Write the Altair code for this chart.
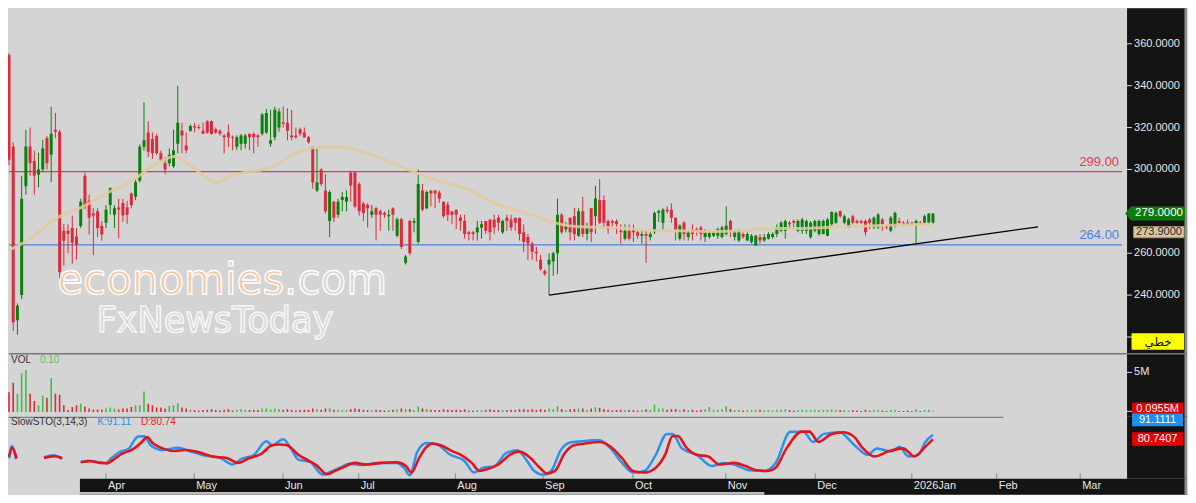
import altair as alt
import pandas as pd

# ---------------- values ----------------
opens = [354.7, 311.0, 228.0, 240.0, 292.0, 311.0, 304.0, 297.5, 300.0, 315.0,
         307.0, 319.0, 318.0, 270.7, 270.7, 272.0, 268.0, 273.0, 297.0, 285.0,
         279.0, 280.0, 273.0, 274.6, 283.0, 278.4, 281.8, 284.0, 282.0, 288.5,
         287.0, 294.6, 310.8, 317.7, 314.6, 316.0, 307.7, 303.0, 303.0, 301.5,
         312.3, 318.5, 311.5, 318.5, 320.8, 320.3, 318.5, 323.0, 323.0, 319.2,
         318.5, 316.2, 317.7, 315.6, 310.8, 312.3, 312.3, 317.0, 317.0, 316.2,
         317.0, 317.7, 312.3, 315.4, 320.0, 322.5, 322.3, 316.2, 316.2, 319.2,
         317.7, 315.4, 310.8, 290.0, 300.0, 290.0, 275.4, 284.6, 278.4, 285.4,
         284.6, 298.5, 298.5, 293.0, 283.8, 283.0, 278.4, 281.5, 280.0, 279.2,
         277.7, 281.5, 268.4, 276.2, 255.4, 275.4, 274.6, 265.4, 290.0, 281.5,
         290.0, 290.0, 289.0, 284.6, 283.1, 280.0, 280.8, 276.9, 275.4, 270.0,
         270.0, 270.0, 272.3, 275.4, 276.1, 276.1, 276.9, 270.0, 276.9, 276.1,
         276.9, 276.9, 270.0, 267.7, 264.6, 260.7, 256.9, 251.5, 254.6, 256.1,
         260.0, 278.4, 271.5, 276.9, 277.7, 268.4, 280.0, 269.2, 281.5, 277.7,
         285.4, 285.4, 275.4, 275.4, 275.4, 270.7, 266.9, 270.7, 271.5, 270.0,
         268.4, 269.2, 267.7, 270.0, 279.2, 274.6, 280.8, 280.8, 276.9, 266.9,
         274.6, 267.7, 270.7, 271.5, 272.3, 267.7, 267.7, 268.4, 268.4, 267.7,
         269.2, 275.4, 267.7, 266.1, 269.2, 266.1, 265.4, 263.8, 267.7, 266.1,
         266.9, 267.7, 269.2, 270.7, 270.7, 274.6, 275.4, 270.7, 270.7, 270.7,
         267.7, 270.7, 269.2, 269.2, 268.4, 273.8, 274.6, 280.0, 274.6, 272.3,
         277.7, 275.4, 275.4, 275.4, 276.1, 272.3, 272.3, 276.1, 273.1, 270.7,
         273.1, 275.4, 274.6, 274.6, 274.6, 273.8, 274.6, 274.6, 274.6, 274.6]

highs = [355.5, 313.0, 236.0, 297.0, 319.0, 320.0, 309.0, 308.0, 314.0, 316.0,
         330.0, 327.0, 319.0, 274.0, 273.8, 278.0, 272.0, 286.0, 298.5, 288.0,
         281.5, 281.5, 275.4, 283.0, 291.5, 283.0, 286.0, 286.0, 285.0, 289.0,
         295.4, 312.0, 332.0, 323.0, 317.7, 317.0, 309.0, 306.0, 310.0, 319.0,
         340.0, 322.3, 317.7, 321.5, 322.3, 321.5, 322.3, 323.5, 323.5, 320.0,
         319.2, 317.0, 321.5, 316.2, 316.2, 317.0, 317.0, 317.0, 317.7, 317.0,
         327.0, 329.0, 328.5, 330.0, 329.2, 330.0, 329.2, 328.5, 320.0, 320.0,
         320.0, 316.0, 311.0, 310.0, 300.5, 297.7, 290.0, 285.0, 286.0, 289.2,
         290.0, 299.0, 299.0, 294.0, 284.6, 284.0, 283.0, 282.0, 280.8, 280.0,
         280.8, 282.0, 277.0, 277.0, 259.2, 276.0, 276.9, 300.0, 293.1, 290.0,
         290.0, 290.0, 290.0, 284.6, 284.6, 280.0, 280.8, 278.4, 278.4, 270.7,
         270.7, 275.4, 275.4, 275.4, 276.1, 278.4, 278.4, 276.1, 278.4, 278.4,
         276.9, 276.9, 273.8, 269.2, 265.4, 263.0, 259.2, 252.3, 260.0, 260.7,
         286.1, 279.2, 275.0, 276.9, 281.5, 281.5, 286.9, 274.6, 281.5, 292.3,
         295.4, 287.7, 276.1, 276.1, 276.1, 273.8, 273.8, 273.8, 273.8, 270.7,
         270.7, 270.7, 270.7, 280.0, 280.8, 281.5, 282.5, 283.8, 276.9, 273.8,
         275.4, 270.7, 273.8, 272.3, 273.1, 271.5, 270.7, 270.7, 272.3, 273.1,
         282.3, 276.1, 271.0, 271.5, 270.0, 270.0, 269.2, 268.8, 269.2, 269.2,
         270.0, 270.0, 273.8, 275.4, 276.1, 275.4, 276.1, 276.1, 276.9, 276.1,
         275.4, 276.1, 276.1, 276.1, 276.9, 280.0, 280.0, 280.5, 278.4, 276.9,
         278.4, 276.1, 276.1, 276.1, 276.9, 277.7, 279.2, 276.9, 273.8, 277.7,
         280.0, 276.9, 275.4, 276.1, 275.0, 276.1, 275.4, 278.4, 279.2, 279.2]

lows = [302.0, 223.0, 221.0, 238.0, 288.0, 297.0, 288.0, 291.5, 299.0, 300.0,
        294.0, 315.0, 248.0, 254.0, 260.0, 255.0, 257.0, 272.0, 281.0, 269.0,
        259.0, 267.7, 266.0, 272.0, 278.5, 272.0, 267.0, 275.0, 274.0, 281.5,
        285.4, 293.8, 309.0, 306.0, 305.0, 307.0, 303.8, 297.7, 301.5, 300.8,
        307.7, 307.7, 307.7, 318.0, 317.7, 319.0, 317.0, 317.0, 316.5, 317.0,
        316.2, 307.7, 310.8, 309.2, 309.2, 309.2, 310.0, 309.2, 307.7, 310.8,
        316.2, 317.0, 310.8, 313.9, 318.0, 320.0, 313.9, 313.9, 314.6, 316.0,
        315.0, 312.3, 290.8, 289.2, 292.0, 279.0, 267.7, 275.0, 276.9, 280.0,
        280.0, 284.6, 281.5, 278.0, 275.4, 272.3, 277.0, 266.1, 270.7, 276.9,
        270.7, 270.7, 267.7, 262.0, 254.6, 259.0, 270.0, 264.6, 280.0, 281.0,
        282.3, 281.5, 284.0, 276.9, 275.4, 274.0, 271.5, 270.7, 266.9, 266.1,
        266.1, 266.1, 266.9, 269.2, 266.1, 269.2, 270.7, 269.2, 270.7, 270.7,
        270.7, 266.1, 260.7, 256.9, 256.9, 256.1, 251.5, 249.2, 240.0, 249.2,
        250.0, 269.2, 270.0, 266.1, 266.1, 267.7, 267.7, 266.1, 265.4, 269.2,
        274.0, 272.3, 269.2, 272.3, 269.2, 264.6, 266.1, 266.1, 265.4, 266.9,
        264.6, 255.4, 266.1, 269.2, 275.0, 270.7, 279.0, 274.6, 266.1, 266.1,
        266.1, 266.1, 266.1, 268.4, 266.1, 265.4, 266.9, 267.7, 266.9, 267.0,
        268.4, 267.7, 266.1, 265.4, 266.9, 265.8, 264.6, 263.5, 264.6, 265.4,
        266.5, 266.9, 267.7, 270.0, 266.9, 272.3, 271.5, 270.0, 269.2, 269.2,
        266.9, 270.0, 268.4, 269.0, 268.0, 273.1, 274.0, 276.9, 273.8, 272.0,
        273.8, 274.0, 274.0, 268.4, 271.5, 271.5, 271.5, 270.7, 271.5, 270.0,
        272.3, 274.0, 273.5, 273.5, 273.8, 264.6, 273.5, 274.0, 274.0, 274.0]

closes = [304.6, 227.0, 235.0, 286.0, 311.0, 303.0, 297.0, 300.0, 310.0, 303.0,
          317.0, 318.0, 251.0, 266.0, 269.2, 265.0, 264.0, 284.6, 282.0, 277.0,
          278.0, 272.0, 269.0, 280.8, 291.0, 281.5, 280.9, 278.0, 278.4, 283.0,
          294.0, 310.8, 313.9, 308.5, 307.7, 307.7, 304.6, 300.0, 307.0, 309.2,
          322.3, 316.2, 309.2, 320.8, 320.0, 319.8, 317.0, 317.7, 317.0, 317.7,
          317.0, 315.4, 315.4, 315.2, 315.4, 316.2, 316.2, 315.4, 315.4, 315.4,
          326.2, 327.0, 313.9, 328.5, 327.7, 321.8, 318.5, 315.4, 315.4, 317.0,
          315.4, 313.0, 293.8, 293.8, 293.0, 280.0, 289.2, 276.9, 284.6, 286.9,
          286.9, 292.3, 282.3, 280.0, 279.2, 281.5, 280.0, 278.4, 278.4, 278.4,
          278.4, 278.4, 276.2, 263.0, 258.4, 260.0, 275.4, 293.1, 280.8, 289.2,
          288.5, 288.5, 286.0, 277.7, 278.4, 278.4, 278.4, 275.4, 269.2, 269.2,
          269.2, 272.3, 273.8, 270.7, 270.0, 272.3, 274.6, 275.4, 275.4, 272.3,
          274.6, 269.2, 265.4, 264.6, 260.7, 260.0, 252.3, 250.0, 256.9, 260.0,
          278.4, 270.0, 273.1, 270.0, 269.2, 280.0, 269.2, 272.3, 270.0, 286.1,
          274.6, 274.6, 271.5, 274.6, 273.8, 270.0, 270.7, 266.9, 270.0, 268.4,
          269.2, 268.4, 269.2, 279.2, 280.0, 280.8, 280.0, 276.9, 270.7, 273.1,
          269.2, 270.0, 269.2, 270.7, 269.2, 270.0, 270.0, 270.0, 271.5, 272.3,
          273.1, 270.7, 270.7, 270.7, 267.7, 269.2, 268.4, 268.4, 266.1, 267.7,
          269.2, 269.2, 272.3, 274.6, 275.4, 273.8, 274.6, 275.4, 276.1, 275.4,
          274.6, 275.4, 275.4, 275.4, 276.1, 279.7, 279.2, 277.7, 277.7, 276.1,
          274.6, 274.6, 274.6, 270.0, 274.6, 276.9, 278.4, 273.8, 272.3, 276.9,
          279.2, 274.6, 273.8, 273.8, 274.0, 275.4, 273.8, 277.7, 278.8, 279.0]

volumes = [2.5, 3.7, 2.3, 4.9, 5.3, 2.3, 1.4, 0.85, 2.1, 1.8,
           4.3, 2.3, 2.2, 0.85, 0.25, 0.65, 0.85, 1.05, 0.72, 0.45,
           0.33, 0.33, 0.33, 0.45, 0.57, 0.45, 0.33, 0.45, 0.45, 0.65,
           0.85, 0.85, 2.6, 1.05, 0.85, 0.57, 0.57, 0.45, 0.77, 0.85,
           1.15, 0.57, 0.45, 0.30, 0.25, 0.20, 0.25, 0.30, 0.35, 0.25,
           0.20, 0.30, 0.35, 0.20, 0.30, 0.35, 0.30, 0.25, 0.30, 0.25,
           0.45, 0.50, 0.35, 0.45, 0.40, 0.30, 0.35, 0.25, 0.20, 0.25,
           0.30, 0.30, 0.45, 0.40, 0.30, 0.45, 0.50, 0.30, 0.30, 0.25,
           0.30, 0.40, 0.45, 0.40, 0.30, 0.25, 0.25, 0.30, 0.25, 0.20,
           0.25, 0.30, 0.35, 0.45, 0.40, 0.40, 0.25, 0.70, 0.45, 0.40,
           0.30, 0.25, 0.25, 0.35, 0.30, 0.25, 0.30, 0.25, 0.35, 0.20,
           0.20, 0.25, 0.25, 0.30, 0.35, 0.25, 0.25, 0.30, 0.25, 0.30,
           0.25, 0.35, 0.35, 0.30, 0.35, 0.25, 0.40, 0.30, 0.45, 0.40,
           0.75, 0.40, 0.25, 0.35, 0.40, 0.45, 0.45, 0.30, 0.45, 0.60,
           0.55, 0.40, 0.30, 0.20, 0.25, 0.30, 0.25, 0.30, 0.25, 0.20,
           0.25, 0.35, 0.30, 0.95, 0.45, 0.45, 0.30, 0.35, 0.40, 0.30,
           0.35, 0.25, 0.30, 0.20, 0.30, 0.35, 0.65, 0.30, 0.30, 0.35,
           0.75, 0.40, 0.25, 0.30, 0.20, 0.25, 0.25, 0.30, 0.25, 0.20,
           0.25, 0.20, 0.30, 0.30, 0.35, 0.25, 0.20, 0.25, 0.30, 0.25,
           0.25, 0.30, 0.25, 0.25, 0.30, 0.35, 0.30, 0.25, 0.25, 0.20,
           0.25, 0.20, 0.15, 0.30, 0.20, 0.25, 0.30, 0.20, 0.15, 0.25,
           0.25, 0.15, 0.15, 0.20, 0.15, 0.35, 0.15, 0.25, 0.30, 0.0955]

# moving average (tan line), bar index / price
ma_x = [0, 4.4, 11.4, 17.6, 23.0, 29.2, 33.9, 39.3, 43.2, 46.3,
        49.4, 52.5, 55.6, 60.2, 63.3, 67.2, 71.1, 74.2, 79.6, 83.5,
        88.1, 92.8, 100.5, 108.3, 116.0, 123.8, 129.2, 135.4, 143.2, 151.0,
        158.6, 166.4, 174.2, 179.6, 185.8, 193.5, 205.1, 219.0]
ma_y = [261.5, 266.1, 276.9, 282.3, 288.5, 294.6, 301.5, 306.2, 301.5, 296.9,
        293.8, 296.9, 298.5, 300.0, 302.3, 306.9, 310.0, 310.8, 310.5, 308.5,
        305.4, 301.5, 295.4, 290.8, 283.1, 278.4, 274.6, 272.6, 272.3, 271.0,
        270.7, 270.4, 270.7, 271.8, 271.8, 272.3, 273.1, 273.9]

# slow stochastic %K (blue)
k_x = [0.0, 0.6, 1.7, 8.3, 10.5, 12.6,
       17.0, 19.0, 21.2, 23.0, 24.3, 26.1, 28.4, 30.6, 32.0, 33.7, 36.4, 40.0, 42.7, 46.3,
       49.8, 53.0, 55.2, 57.9, 61.0, 62.4, 65.0, 66.8, 68.6, 71.3, 74.4, 76.7, 78.5, 80.7,
       83.8, 87.4, 91.9, 93.6, 95.0, 96.8, 99.0, 101.7, 104.4, 108.0, 110.2, 112.4, 115.1,
       117.8, 120.5, 122.3, 124.5, 126.7, 128.5, 130.8, 133.0, 135.7, 138.4, 140.0, 142.6,
       145.3, 147.9, 150.6, 153.3, 155.9, 157.3, 159.5, 163.0, 166.6, 169.3, 171.9, 175.5,
       179.0, 181.7, 185.2, 188.3, 190.6, 193.2, 196.8, 200.4, 203.5, 205.7, 209.2, 211.0,
       213.2, 215.5, 217.2, 219.0]
k_y = [38, 66, 36, 40, 45, 37,
       30.2, 33.0, 29.4, 28.0, 38.8, 51.8, 60.4, 87.0, 87.8, 66.2, 56.8, 61.8, 54.6, 44.6,
       40.2, 24.4, 37.4, 44.6, 76.2, 67.6, 80.6, 60.4, 35.2, 30.2, 1.4, 10.0, 17.2, 25.8,
       23.0, 28.0, 28.0, 17.2, 0.6, 53.2, 72.6, 67.6, 47.4, 31.6, 6.4, 17.2, 20.8,
       49.6, 56.1, 38.8, 10.0, 1.4, 10.0, 56.8, 73.4, 76.2, 78.4, 78.4, 60.4,
       28.0, 6.4, 10.0, 46.0, 92.8, 92.8, 60.4, 46.0, 20.8, 28.0, 24.4, 11.4,
       10.0, 28.0, 97.8, 97.8, 74.8, 92.8, 96.4, 67.6, 46.0, 60.4, 53.2, 64.0,
       42.4, 46.0, 74.8, 91.1]
k_seg = [0, 0, 0, 1, 1, 1] + [2] * (len(k_x) - 6)

# slow stochastic %D (red)
d_x = [0.0, 0.8, 1.8, 8.3, 10.8, 12.6,
       17.0, 19.4, 21.7, 23.2, 24.8, 26.6, 29.3, 31.5, 32.7, 34.2, 36.4, 39.1, 41.8, 44.5,
       48.1, 51.6, 54.3, 57.0, 59.7, 62.4, 64.1, 65.9, 68.6, 71.3, 73.1, 75.3, 77.6, 79.3,
       82.0, 84.7, 88.3, 91.9, 94.1, 95.4, 97.2, 99.0, 100.4, 102.6, 105.3, 107.1, 109.7,
       111.5, 113.3, 116.0, 118.7, 120.9, 123.2, 125.8, 127.6, 129.4, 131.7, 133.9, 136.6,
       140.0, 142.6, 145.3, 147.9, 150.6, 153.3, 155.5, 157.3, 158.6, 160.4, 163.0, 165.7,
       168.4, 171.9, 174.6, 177.2, 179.9, 181.7, 184.3, 187.9, 189.7, 191.9, 195.0, 197.7,
       200.4, 202.1, 205.2, 208.3, 211.9, 214.6, 217.2, 219.0]
d_y = [42, 62, 38, 39, 43, 39,
       29.4, 31.6, 28.0, 26.6, 35.2, 47.4, 58.2, 74.8, 85.6, 71.2, 60.4, 54.6, 56.8, 53.2,
       42.4, 38.8, 28.0, 38.8, 47.4, 67.6, 69.0, 67.6, 46.0, 31.6, 20.8, 2.8, 11.4, 18.6,
       28.0, 24.4, 28.0, 29.4, 20.8, 6.4, 38.8, 64.0, 71.2, 66.2, 53.2, 46.0, 28.0,
       10.0, 13.6, 24.4, 46.0, 53.2, 42.4, 17.2, 4.2, 10.0, 49.6, 67.6, 71.2,
       74.8, 64.0, 38.8, 10.0, 6.4, 17.2, 46.0, 87.8, 87.8, 64.0, 46.0, 42.4,
       24.4, 28.0, 20.8, 11.4, 10.0, 17.2, 60.4, 97.8, 97.8, 74.8, 92.8, 96.4,
       85.6, 64.0, 42.4, 53.2, 60.4, 42.4, 64.0, 80.7]
d_seg = [0, 0, 0, 1, 1, 1] + [2] * (len(d_x) - 6)

months = ["Apr", "May", "Jun", "Jul", "Aug", "Sep", "Oct", "Nov", "Dec", "2026Jan", "Feb", "Mar"]
month_x = [23.0, 43.9, 64.95, 82.9, 105.8, 126.6, 147.9, 169.9, 191.1, 214.0, 234.1, 253.9]

price_ticks = [220, 240, 260, 280, 300, 320, 340, 360]
price_labelled = [240, 260, 300, 320, 340, 360]
resistance = 299.0
support = 264.0
trend_x = [128.0, 243.9]
trend_y = [240.0, 272.6]
last_close = 279.0
ma_last = 273.9
vol_last = 0.0955
k_last = 91.1111
d_last = 80.7407

# ---------------- styling / layout ----------------
W = 1180
H1, H2, H3, H4 = 345, 64, 62, 16
XMIN, XMAX = -0.234, 279.21
RP = 1120  # left edge of the dark price panel
BG = "#d4d4d4"
DARK = "#141414"
GREEN = "#0b800b"
RED = "#dc2a3c"
VGREEN = "#45bd45"
VRED = "#d92a3c"
FONT = "Liberation Sans"

xs = alt.Scale(domain=[XMIN, XMAX], nice=False, zero=False, padding=0)
ONE = pd.DataFrame({"k": [0]})


def X(f):
    return alt.X(f, type="quantitative", scale=xs, axis=None)


n = len(opens)
df = pd.DataFrame({"i": list(range(n)), "o": opens, "h": highs, "l": lows,
                   "c": closes, "v": volumes, "z": [0.0] * n})
df["col"] = [GREEN if c > o else RED for o, c in zip(opens, closes)]
df["vcol"] = [VGREEN if c > o else VRED for o, c in zip(opens, closes)]

# ================= main price panel =================
ys1 = alt.Scale(domain=[212.4, 377.0], nice=False, zero=False, padding=0)


def Y1(f):
    return alt.Y(f, type="quantitative", scale=ys1, axis=None)


def right_panel(h):
    return alt.Chart(ONE).mark_rect(color=DARK).encode(
        x=alt.value(RP), x2=alt.value(W), y=alt.value(0), y2=alt.value(h))


def edge(h):
    return alt.Chart(ONE).mark_rect(color="#8e8e8e").encode(
        x=alt.value(W - 2.5), x2=alt.value(W), y=alt.value(0), y2=alt.value(h))


wm = pd.DataFrame({"x": [11.45], "y": [240.5]})
wm2 = pd.DataFrame({"x": [20.8], "y": [222.3]})
wm_econ = alt.Chart(wm).mark_text(text="economies", font="DejaVu Sans", fontSize=42,
                                  align="left", baseline="alphabetic", fill="#f6c8a8",
                                  stroke="#ffffff", strokeWidth=1.3).encode(x=X("x"), y=Y1("y"))
wm_com = alt.Chart(wm).mark_text(text=".com", font="DejaVu Sans", fontSize=42, dx=227,
                                 align="left", baseline="alphabetic", fill="#d8d8d8",
                                 stroke="#ffffff", strokeWidth=1.3).encode(x=X("x"), y=Y1("y"))
wm_fx = alt.Chart(wm2).mark_text(text="FxNewsToday", font="DejaVu Sans", fontSize=35,
                                 align="left", baseline="alphabetic", fill="#d6d6d6",
                                 stroke="#f6f6f6", strokeWidth=1.5).encode(x=X("x"), y=Y1("y"))

hl = pd.DataFrame({"y": [resistance, support], "x0": [0.0, 0.0], "x1": [263.8, 263.8],
                   "col": ["#e6384e", "#4a80e4"],
                   "t": [f"{resistance:.2f}", f"{support:.2f}"]})
hlines = alt.Chart(hl).mark_rule(strokeWidth=1.2, clip=True).encode(
    x=X("x0"), x2="x1:Q", y=Y1("y"), color=alt.Color("col:N", scale=None))
hlabels = alt.Chart(hl).mark_text(align="right", baseline="alphabetic", dy=-5.5,
                                  fontSize=13, font=FONT).encode(
    x=alt.value(1112), y=Y1("y"), text="t:N", color=alt.Color("col:N", scale=None))

ma_df = pd.DataFrame({"x": ma_x, "y": ma_y})
ma_line = alt.Chart(ma_df).mark_line(color="#e2c99c", strokeWidth=3, opacity=0.85, clip=True,
                                     interpolate="monotone").encode(x=X("x"), y=Y1("y"))

tr_df = pd.DataFrame({"x": trend_x, "y": trend_y})
trend = alt.Chart(tr_df).mark_line(color="#000000", strokeWidth=1.4, clip=True).encode(
    x=X("x"), y=Y1("y"))

wicks = alt.Chart(df).mark_rule(strokeWidth=1, clip=True).encode(
    x=X("i"), y=Y1("l"), y2="h:Q", color=alt.Color("col:N", scale=None))
bodies = alt.Chart(df).mark_bar(size=3, clip=True).encode(
    x=X("i"), y=Y1("o"), y2="c:Q", color=alt.Color("col:N", scale=None))

pt_df = pd.DataFrame({"y": price_ticks})
pl_df = pd.DataFrame({"y": price_labelled, "t": [f"{v:.4f}" for v in price_labelled]})
p_ticks = alt.Chart(pt_df).mark_rule(color="#d8d8d8", strokeWidth=1).encode(
    x=alt.value(RP), x2=alt.value(RP + 5), y=Y1("y"))
p_labels = alt.Chart(pl_df).mark_text(align="left", baseline="middle", fontSize=11,
                                      font=FONT, color="#e6e6e6").encode(
    x=alt.value(1127), y=Y1("y"), text="t:N")

lc_df = pd.DataFrame({"y": [last_close], "t": [f"{last_close:.4f}"]})
tag_shape = "M-1,0L-0.8,-0.235L1,-0.235L1,0.235L-0.8,0.235Z"
g_tick = alt.Chart(lc_df).mark_rule(color="#d8d8d8").encode(
    x=alt.value(RP - 6), x2=alt.value(RP), y=Y1("y"))
g_tag = alt.Chart(lc_df).mark_point(shape=tag_shape, size=3600, filled=True, opacity=1,
                                    color="#0c7a0c", strokeWidth=0).encode(
    x=alt.value(1148), y=Y1("y"))
g_txt = alt.Chart(lc_df).mark_text(align="center", baseline="middle", fontSize=11.5,
                                   font=FONT, color="#ffffff").encode(
    x=alt.value(1152), y=Y1("y"), text="t:N")

ma_tag = alt.Chart(ONE).mark_rect(fill="#d9c59c", stroke="#a8926a", strokeWidth=0.8).encode(
    x=alt.value(1126.5), x2=alt.value(1177), y=alt.value(218.5), y2=alt.value(229.8))
ma_txt = alt.Chart(pd.DataFrame({"t": [f"{ma_last:.4f}"]})).mark_text(
    align="center", baseline="middle", fontSize=11, font=FONT, color="#2a2a2a").encode(
    x=alt.value(1152), y=alt.value(224.4), text="t:N")

yel = alt.Chart(ONE).mark_rect(fill="#ffff00").encode(
    x=alt.value(1124.5), x2=alt.value(1177), y=alt.value(325.3), y2=alt.value(341.8))
yel_txt = alt.Chart(ONE).mark_text(text="خطي", align="center", baseline="middle",
                                   fontSize=12, font="DejaVu Sans", color="#111111").encode(
    x=alt.value(1151), y=alt.value(333.8))

main = alt.layer(
    right_panel(H1), edge(H1), wm_econ, wm_com, wm_fx, hlines, wicks, bodies, ma_line, trend,
    hlabels, p_ticks, p_labels, g_tick, g_tag, g_txt, ma_tag, ma_txt, yel, yel_txt
).properties(width=W, height=H1)

# ================= volume panel =================
ys2 = alt.Scale(domain=[-0.6, 7.46], nice=False, zero=False, padding=0)


def Y2(f):
    return alt.Y(f, type="quantitative", scale=ys2, axis=None)


sep1 = alt.Chart(ONE).mark_rule(color="#777777", strokeWidth=1.5).encode(
    x=alt.value(0.8), x2=alt.value(W), y=alt.value(0.8))
vbars = alt.Chart(df).mark_rule(strokeWidth=1.6, clip=True).encode(
    x=X("i"), y=Y2("z"), y2="v:Q", color=alt.Color("vcol:N", scale=None))
v5 = pd.DataFrame({"y": [5.0], "t": ["5M"]})
v5_tick = alt.Chart(v5).mark_rule(color="#d8d8d8").encode(
    x=alt.value(RP), x2=alt.value(RP + 5), y=Y2("y"))
v5_lab = alt.Chart(v5).mark_text(align="left", baseline="middle", fontSize=11, font=FONT,
                                 color="#e6e6e6").encode(x=alt.value(1127), y=Y2("y"), text="t:N")
vl = pd.DataFrame({"y": [vol_last], "t": [f"{vol_last:.4f}M"]})
vl_tick = alt.Chart(vl).mark_rule(color="#d8d8d8").encode(
    x=alt.value(RP - 4), x2=alt.value(RP + 5), y=Y2("y"))
vl_tag = alt.Chart(ONE).mark_rect(fill="#e40000").encode(
    x=alt.value(1125), x2=alt.value(1176), y=alt.value(49.7), y2=alt.value(60.9))
vl_txt = alt.Chart(vl).mark_text(align="center", baseline="middle", fontSize=11, font=FONT,
                                 color="#ffffff").encode(x=alt.value(1150.5), y=alt.value(56.3),
                                                         text="t:N")
vol_title = alt.Chart(ONE).mark_text(text="VOL", align="left", baseline="middle", fontSize=10,
                                     font=FONT, color="#333333").encode(
    x=alt.value(3), y=alt.value(6.8))
vol_val = alt.Chart(pd.DataFrame({"t": ["0.10"]})).mark_text(
    align="left", baseline="middle", fontSize=10, font=FONT, color="#58c458").encode(
    x=alt.value(32), y=alt.value(6.8), text="t:N")

vol = alt.layer(
    right_panel(H2), edge(H2), vbars, sep1, v5_tick, v5_lab, vl_tick, vl_tag, vl_txt,
    vol_title, vol_val
).properties(width=W, height=H2)

# ================= stochastic panel =================
ys3 = alt.Scale(domain=[-7.6, 130.9], nice=False, zero=False, padding=0)


def Y3(f):
    return alt.Y(f, type="quantitative", scale=ys3, axis=None)


k_df = pd.DataFrame({"x": k_x, "y": k_y, "s": k_seg})
d_df = pd.DataFrame({"x": d_x, "y": d_y, "s": d_seg})
sep2 = alt.Chart(ONE).mark_rule(color="#808080", strokeWidth=1.2).encode(
    x=alt.value(0.6), x2=alt.value(996), y=alt.value(0.6))
k_line = alt.Chart(k_df).mark_line(color="#2d93ea", strokeWidth=2.5, clip=True,
                                   interpolate="monotone").encode(
    x=X("x"), y=Y3("y"), detail="s:N")
d_line = alt.Chart(d_df).mark_line(color="#e3141c", strokeWidth=2.6, clip=True,
                                   interpolate="monotone").encode(
    x=X("x"), y=Y3("y"), detail="s:N")
m_df = pd.DataFrame({"x": month_x, "t": months})
m_ticks = alt.Chart(m_df).mark_rule(color="#8a8a8a").encode(
    x=X("x"), y=alt.value(56.5), y2=alt.value(62))
st_title = alt.Chart(ONE).mark_text(text="SlowSTO(3,14,3)", align="left", baseline="middle",
                                    fontSize=10, font=FONT, color="#333333").encode(
    x=alt.value(3), y=alt.value(5.6))
st_k = alt.Chart(pd.DataFrame({"t": [f"K:{k_last:.2f}"]})).mark_text(
    align="left", baseline="middle", fontSize=10, font=FONT, color="#2d8fe6").encode(
    x=alt.value(89.5), y=alt.value(5.6), text="t:N")
st_d = alt.Chart(pd.DataFrame({"t": [f"D:{d_last:.2f}"]})).mark_text(
    align="left", baseline="middle", fontSize=10, font=FONT, color="#e22424").encode(
    x=alt.value(133), y=alt.value(5.6), text="t:N")
k_tag = alt.Chart(ONE).mark_rect(fill="#1d8ff0").encode(
    x=alt.value(1125), x2=alt.value(1176), y=alt.value(-3.3), y2=alt.value(9.3))
k_txt = alt.Chart(pd.DataFrame({"t": [f"{k_last:.4f}"]})).mark_text(
    align="center", baseline="middle", fontSize=11, font=FONT, color="#ffffff").encode(
    x=alt.value(1150.5), y=alt.value(3.0), text="t:N")
d_tag = alt.Chart(ONE).mark_rect(fill="#e40000").encode(
    x=alt.value(1125), x2=alt.value(1176), y=alt.value(15.4), y2=alt.value(28.9))
d_txt = alt.Chart(pd.DataFrame({"t": [f"{d_last:.4f}"]})).mark_text(
    align="center", baseline="middle", fontSize=11, font=FONT, color="#ffffff").encode(
    x=alt.value(1150.5), y=alt.value(22.2), text="t:N")

sto = alt.layer(
    right_panel(H3), edge(H3), sep2, k_line, d_line, m_ticks, st_title, st_k, st_d,
    k_tag, k_txt, d_tag, d_txt
).properties(width=W, height=H3)

# ================= date band =================
band_bg = alt.Chart(ONE).mark_rect(color=DARK).encode(
    x=alt.value(72), x2=alt.value(W), y=alt.value(0), y2=alt.value(H4))
scroll = alt.Chart(ONE).mark_rect(color="#bcbcbc").encode(
    x=alt.value(72), x2=alt.value(757), y=alt.value(13.2), y2=alt.value(H4))
m_text = alt.Chart(m_df).mark_text(align="left", baseline="middle", dx=2, fontSize=11,
                                   font=FONT, color="#e8e8e8").encode(
    x=X("x"), y=alt.value(7), text="t:N")

band = alt.layer(band_bg, scroll, edge(H4), m_text).properties(width=W, height=H4)

chart = alt.VConcatChart(
    vconcat=[main, vol, sto, band], spacing=0, bounds="flush",
    padding=0, background=BG
).resolve_scale(x="independent", y="independent").configure_view(stroke=None)

chart.save("out.html", embed_options={"renderer": "svg", "actions": False})
